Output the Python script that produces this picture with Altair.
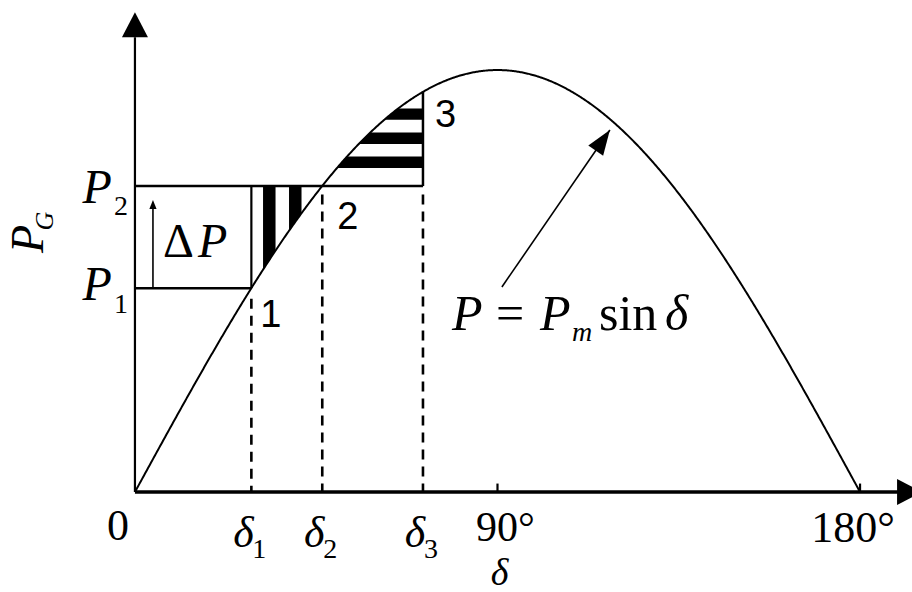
import altair as alt
import numpy as np
import pandas as pd

# Power-angle characteristic of a generator, P = Pm sin(delta)
# Angles in degrees, power in per-unit of Pm.
PM = 1.0
P_LEVELS = [0.483, 0.725]           # P1, P2
DELTAS = [28.9, 46.5, 71.5]         # delta1, delta2, delta3
TICK_VALUES = [0, 90, 180]
TICK_LABELS = ["0", "90°", "180°"]
POINT_LABELS = ["1", "2", "3"]
DELTA_SUBS = ["1", "2", "3"]

P1, P2 = P_LEVELS
D1, D2, D3 = DELTAS

SERIF = "Liberation Serif"
SANS = "Liberation Sans"
INK = "#000000"

XS = alt.Scale(domain=[-33.5, 192.9], nice=False, zero=False)
YS = alt.Scale(domain=[-0.237, 1.166], nice=False, zero=False)


def power(d):
    return PM * np.sin(np.radians(d))


def X(field):
    return alt.X(field, type="quantitative", scale=XS, axis=None)


def Y(field):
    return alt.Y(field, type="quantitative", scale=YS, axis=None)


def XD(v):
    return alt.XDatum(float(v), scale=XS, axis=None)


def YD(v):
    return alt.YDatum(float(v), scale=YS, axis=None)


ONE = alt.Data(values=[{}])

# ---- the sine curve -------------------------------------------------------
curve_d = np.linspace(0, 180, 721)
curve_df = pd.DataFrame({"delta": curve_d, "P": power(curve_d)})
curve = alt.Chart(curve_df).mark_line(color=INK, strokeWidth=2).encode(
    x=X("delta"), y=Y("P")
)

# ---- hatched areas ----------------------------------------------------------
# accelerating area (delta1..delta2, below P2): vertical black stripes
v_rows = []
for k in range(2):
    lo = D1 + 2.9 + k * 6.45
    hi = lo + 3.1
    for d in np.linspace(lo, hi, 16):
        v_rows.append({"band": k, "delta": d, "P": power(d)})
vstripes = alt.Chart(pd.DataFrame(v_rows)).mark_area(color=INK).encode(
    x=X("delta"), y=Y("P"), y2=alt.Y2Datum(P2), detail="band:N"
)

# decelerating area (delta2..delta3, above P2): horizontal black stripes
h_rows = []
for k in range(3):
    lo = P2 + 0.043 + k * 0.057
    hi = lo + 0.027
    for p in np.linspace(lo, hi, 16):
        h_rows.append({"band": k, "P": p, "delta": np.degrees(np.arcsin(p / PM))})
hstripes = alt.Chart(pd.DataFrame(h_rows)).mark_area(
    color=INK, orient="horizontal"
).encode(y=Y("P"), x=X("delta"), x2=alt.X2Datum(D3), detail="band:N")


# ---- straight segments ----------------------------------------------------------
def segments(rows, width, dash=None):
    df = pd.DataFrame(rows, columns=["x", "y", "x2", "y2"])
    kw = dict(color=INK, strokeWidth=width)
    if dash:
        kw["strokeDash"] = dash
    return alt.Chart(df).mark_rule(**kw).encode(
        x=X("x"), y=Y("y"), x2="x2:Q", y2="y2:Q"
    )


Y_TOP = 1.078      # top of the vertical axis shaft
X_END = 189.4      # end of the horizontal axis shaft

thick = segments(
    [
        (0, P1, D1, P1),
        (0, P2, D3, P2),
        (D3, P2, D3, power(D3)),
    ],
    2.5,
)
thin = segments(
    [
        (D1, P1, D1, P2),
        (0, 0, 0, Y_TOP),
        (90, 0, 90, 0.02),
        (180, 0, 180, 0.02),
    ],
    2.2,
)
x_axis = segments([(0, 0, X_END, 0)], 3.5)

# delta-P arrow inside the box and the pointer to the curve
DP_X = 4.47
PTR_FROM = (91.1, 0.486)
PTR_TO = (117.9, 0.858)
fine = segments(
    [
        (DP_X, P1, DP_X, P2 - 0.04),
        (PTR_FROM[0], PTR_FROM[1], PTR_TO[0], PTR_TO[1]),
    ],
    1.6,
)

dashed = segments(
    [
        (D1, P1 - 0.025, D1, 0),
        (D2, P2 - 0.02, D2, 0),
        (D3, P2 - 0.02, D3, 0),
    ],
    2.6,
    dash=[10, 7],
)


# ---- arrow heads ----------------------------------------------------------------
def head(x, y, angle, length, half):
    shape = f"M0,0L{half:.3f},1L{-half:.3f},1Z"
    return alt.Chart(ONE).mark_point(
        shape=shape, filled=True, color=INK, opacity=1, strokeWidth=0,
        size=(2 * length) ** 2, angle=angle,
    ).encode(x=XD(x), y=YD(y))


heads = [
    head(0, 1.137, 0, 25, 0.52),
    head(195.4, 0, 90, 25, 0.52),
    head(DP_X, P2 - 0.033, 0, 9, 0.4),
    head(PTR_TO[0], PTR_TO[1], 34.5, 25, 0.36),
]


# ---- text -------------------------------------------------------------------------
def text(s, x, y, size, dx=0, dy=0, italic=False, font=SERIF, align="center",
         baseline="alphabetic", angle=0):
    kw = dict(text=s, fontSize=size, font=font, align=align, baseline=baseline,
              dx=dx, dy=dy, color=INK, angle=angle)
    if italic:
        kw["fontStyle"] = "italic"
    return alt.Chart(ONE).mark_text(**kw).encode(x=x, y=y)


texts = []

# vertical axis title P_G (rotated)
texts.append(text("P", alt.value(29), alt.value(239), 46, italic=True,
                  baseline="middle", angle=270))
texts.append(text("G", alt.value(45), alt.value(221), 26, italic=True,
                  baseline="middle", angle=270))

# P2 and P1 labels on the vertical axis
for lvl, sub, dy_p, dy_s in [(P2, "2", 17, 29), (P1, "1", 12, 25)]:
    texts.append(text("P", XD(0), YD(lvl), 48, dx=-23, dy=dy_p, italic=True,
                      align="right"))
    texts.append(text(sub, XD(0), YD(lvl), 28, dx=-21, dy=dy_s, align="left"))

# delta-P
texts.append(text("Δ", XD(0), YD(P1), 48, dx=28, dy=-31, align="left"))
texts.append(text("P", XD(0), YD(P1), 48, dx=63, dy=-31, italic=True, align="left"))

# operating points 1, 2, 3
pt_anchor = [(D1, P1, 9, 39), (D2, P2, 15, 43), (D3, power(D3), 12, 35)]
for lab, (dx_, py, ox, oy) in zip(POINT_LABELS, pt_anchor):
    texts.append(text(lab, XD(dx_), YD(py), 38, dx=ox, dy=oy, font=SANS,
                      align="left"))

# equation P = Pm sin(delta)
ex, ey = PTR_FROM
texts.append(text("P", XD(ex), YD(ey), 50, dx=-50, dy=43, italic=True, align="left"))
texts.append(text("=", XD(ex), YD(ey), 50, dx=-6, dy=43, align="left"))
texts.append(text("P", XD(ex), YD(ey), 50, dx=38, dy=43, italic=True, align="left"))
texts.append(text("m", XD(ex), YD(ey), 28, dx=70, dy=54, italic=True, align="left"))
texts.append(text("sin", XD(ex), YD(ey), 50, dx=97, dy=43, align="left"))
texts.append(text("δ", XD(ex), YD(ey), 50, dx=163, dy=43, italic=True, align="left"))

# horizontal axis labels
tick_dx = {0: -17, 90: 8, 180: -7}
tick_dy = {0: 48, 90: 49, 180: 50}
tick_size = {0: 44, 90: 42, 180: 44}
for v, lab in zip(TICK_VALUES, TICK_LABELS):
    texts.append(text(lab, XD(v), YD(0), tick_size[v], dx=tick_dx[v], dy=tick_dy[v]))

for d, sub in zip(DELTAS, DELTA_SUBS):
    texts.append(text("δ", XD(d), YD(0), 44, dx=-8, dy=55, italic=True))
    texts.append(text(sub, XD(d), YD(0), 28, dx=8, dy=66))

texts.append(text("δ", XD(90), YD(0), 38, dx=2, dy=93, italic=True))

chart = alt.layer(
    vstripes, hstripes, dashed, thick, thin, x_axis, fine, curve, *heads, *texts
).properties(
    width=912, height=592, autosize=alt.AutoSizeParams(type="none"), padding=0,
    background="white",
).configure_view(strokeWidth=0)

chart.save("out.html", embed_options={"renderer": "svg", "actions": False})
